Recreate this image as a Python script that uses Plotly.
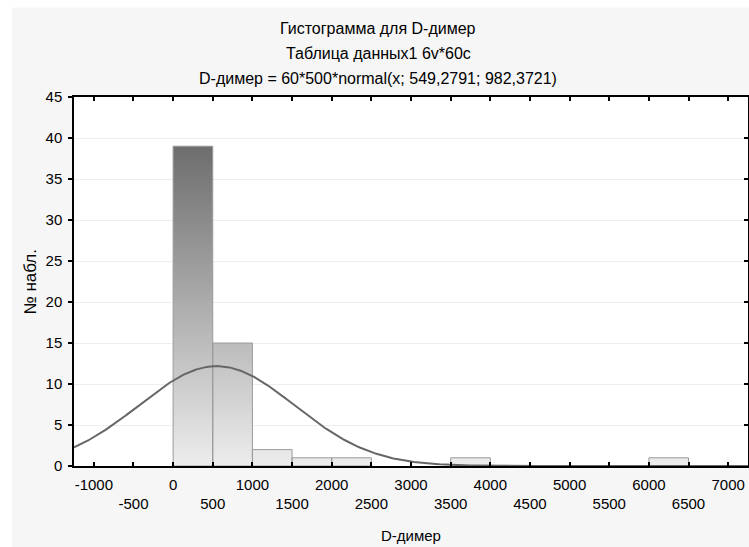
import numpy as np
import plotly.graph_objects as go

# ---- data ----
bin_edges = [0, 500, 1000, 1500, 2000, 2500, 3000, 3500, 4000, 4500, 5000, 5500, 6000, 6500]
counts = [39, 15, 2, 1, 1, 0, 0, 1, 0, 0, 0, 0, 1]
n_obs = 60
bin_w = 500
mu = 549.2791
sigma = 982.3721
x_tick_vals = list(range(-1000, 7001, 500))
y_tick_vals = list(range(0, 46, 5))

title_lines = ["Гистограмма для D-димер",
               "Таблица данных1 6v*60c",
               "D-димер = 60*500*normal(x; 549,2791; 982,3721)"]
x_title = "D-димер"
y_title = "№ набл."

FONT = "Liberation Sans, Arial, sans-serif"

# bars as filled polygons (for vertical gradient)
bx, by = [], []
for i, c in enumerate(counts):
    if c <= 0:
        continue
    l, r = bin_edges[i], bin_edges[i + 1]
    bx += [l, l, r, r, l, None]
    by += [0, c, c, 0, 0, None]

# fitted normal curve from the parameters in the title
xc = np.linspace(-1250, 7250, 600)
yc = n_obs * bin_w * np.exp(-0.5 * ((xc - mu) / sigma) ** 2) / (sigma * np.sqrt(2 * np.pi))

fig = go.Figure()
fig.add_trace(go.Scatter(
    x=bx, y=by, mode="lines", fill="toself",
    line=dict(color="#9a9a9a", width=1),
    fillgradient=dict(type="vertical", start=0, stop=max(counts),
                      colorscale=[[0, "#ededed"], [1, "#6d6d6d"]]),
    hoverinfo="skip", showlegend=False))
fig.add_trace(go.Scatter(
    x=xc, y=yc, mode="lines", yaxis="y2",
    line=dict(color="#666666", width=2),
    showlegend=False))

tick_text = [str(v) if v % 1000 == 0 else "<br>" + str(v) for v in x_tick_vals]

fig.update_layout(
    width=749, height=547,
    margin=dict(l=74, r=1, t=97, b=81),
    paper_bgcolor="#f6f6f6", plot_bgcolor="white",
    font=dict(family=FONT, size=15, color="black"),
    showlegend=False,
    xaxis=dict(range=[-1250, 7250], tickvals=x_tick_vals, ticktext=tick_text,
               ticks="inside", ticklen=4, tickwidth=1.5, tickcolor="black",
               showline=True, linecolor="black", linewidth=1.5, mirror="ticks",
               showgrid=False, zeroline=False, ticklabelstandoff=4,
               tickfont=dict(size=15)),
    yaxis=dict(range=[0, 45], tickvals=y_tick_vals,
               ticks="outside", ticklen=4, tickwidth=1.5, tickcolor="black",
               showline=True, linecolor="black", linewidth=1.5,
               showgrid=True, gridcolor="#eeeeee", gridwidth=1, zeroline=False,
               ticklabelstandoff=3, tickfont=dict(size=15)),
    yaxis2=dict(range=[0, 45], overlaying="y", side="right", tickvals=y_tick_vals,
                ticks="inside", ticklen=4, tickwidth=1.5, tickcolor="black",
                showline=True, linecolor="black", linewidth=1.5,
                showticklabels=False, showgrid=False, zeroline=False),
)

# white strips at the top and left edges of the picture
fig.add_shape(type="rect", xref="paper", yref="paper", x0=-0.2, x1=1.1, y0=1.2424, y1=1.3,
              fillcolor="white", line=dict(width=0), layer="below")
fig.add_shape(type="rect", xref="paper", yref="paper", x0=-0.2, x1=-0.0924, y0=-0.3, y1=1.3,
              fillcolor="white", line=dict(width=0), layer="below")

for txt, py in zip(title_lines, [28, 53, 78]):
    fig.add_annotation(text=txt, xref="paper", yref="paper",
                       x=(378 - 74) / 674, y=(466 - py) / 369,
                       xanchor="center", yanchor="middle", showarrow=False,
                       font=dict(size=16, family=FONT))

fig.add_annotation(text=x_title, xref="paper", yref="paper", x=0.5, y=(466 - 535) / 369,
                   xanchor="center", yanchor="middle", showarrow=False,
                   font=dict(size=15, family=FONT))
fig.add_annotation(text=y_title, xref="paper", yref="paper", x=(30 - 74) / 674, y=0.5,
                   xanchor="center", yanchor="middle", showarrow=False, textangle=-90,
                   font=dict(size=17, family=FONT))

fig.write_html("out.html")
